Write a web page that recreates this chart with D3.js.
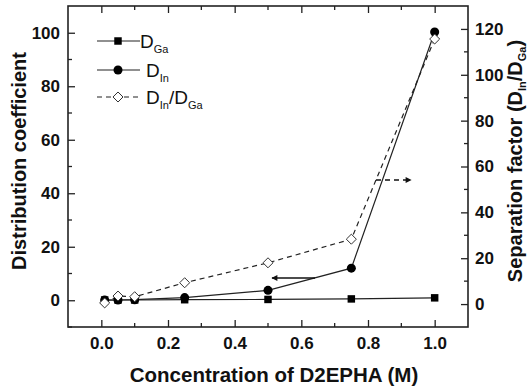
<!DOCTYPE html>
<html><head><meta charset="utf-8">
<script src="https://cdn.jsdelivr.net/npm/d3@7"></script>
<style>body{margin:0;background:#fff}svg{display:block}text{font-family:"Liberation Sans",Arial,sans-serif;font-weight:bold;fill:#111}</style>
</head><body>
<svg id="c" width="531" height="387"></svg>
<script>
const conc = [0.01, 0.05, 0.1, 0.25, 0.5, 0.75, 1.0];
const dGa = [0.1, 0.1, 0.1, 0.2, 0.3, 0.5, 0.9];
const dIn = [0.05, 0.1, 0.2, 1.0, 3.7, 12.0, 100.3];
const ratio = [0.5, 3.5, 3.2, 9.3, 18.0, 28.3, 115.6];
const xTicks = [0.0, 0.2, 0.4, 0.6, 0.8, 1.0];
const yLeftTicks = [0, 20, 40, 60, 80, 100];
const yRightTicks = [0, 20, 40, 60, 80, 100, 120];

const svg = d3.select("#c");
const L = 68, R = 468, T = 6, B = 327;
const x = d3.scaleLinear().domain([-0.1, 1.1]).range([L, R]);
const yL = d3.scaleLinear().domain([-10, 110]).range([B, T]);
const yR = d3.scaleLinear().domain([-10, 130]).range([B, T]);
const col = "#222";

const xMinor = [0.1, 0.3, 0.5, 0.7, 0.9];
const g = svg.append("g");

// Bottom axis
const bx = g.append("g").attr("transform", `translate(0,${B})`)
  .call(d3.axisBottom(x).tickValues(xTicks).tickFormat(d3.format(".1f")).tickSizeInner(-7).tickSizeOuter(0).tickPadding(10));
bx.append("g").selectAll("line").data(xMinor).join("line")
  .attr("x1", d => x(d)).attr("x2", d => x(d)).attr("y1", 0).attr("y2", -4);
// Top axis
const tx = g.append("g").attr("transform", `translate(0,${T})`)
  .call(d3.axisTop(x).tickValues(xTicks).tickFormat("").tickSizeInner(-7).tickSizeOuter(0));
tx.append("g").selectAll("line").data(xMinor).join("line")
  .attr("x1", d => x(d)).attr("x2", d => x(d)).attr("y1", 0).attr("y2", 4);
// Left axis
const ly = g.append("g").attr("transform", `translate(${L},0)`)
  .call(d3.axisLeft(yL).tickValues(yLeftTicks).tickSizeInner(-7).tickSizeOuter(0).tickPadding(8));
ly.append("g").selectAll("line").data([-10,10,30,50,70,90]).join("line")
  .attr("y1", d => yL(d)).attr("y2", d => yL(d)).attr("x1", 0).attr("x2", 4);
// Right axis
const ry = g.append("g").attr("transform", `translate(${R},0)`)
  .call(d3.axisRight(yR).tickValues(yRightTicks).tickSizeInner(-7).tickSizeOuter(0).tickPadding(7));
ry.append("g").selectAll("line").data([10,30,50,70,90,110]).join("line")
  .attr("y1", d => yR(d)).attr("y2", d => yR(d)).attr("x1", 0).attr("x2", -4);

g.selectAll(".domain").remove();
g.selectAll("line").attr("stroke", col).attr("stroke-width", 1.3);
g.selectAll(".tick text").style("font-size", "17px").attr("fill", "#111");

svg.append("rect").attr("x", L).attr("y", T).attr("width", R - L).attr("height", B - T)
  .attr("fill", "none").attr("stroke", col).attr("stroke-width", 1.6);

// Series
const lineL = d3.line().x((d, i) => x(conc[i])).y(d => yL(d));
const lineR = d3.line().x((d, i) => x(conc[i])).y(d => yR(d));
svg.append("path").attr("d", lineL(dGa)).attr("fill", "none").attr("stroke", col).attr("stroke-width", 1.2);
svg.append("path").attr("d", lineL(dIn)).attr("fill", "none").attr("stroke", col).attr("stroke-width", 1.2);
svg.append("path").attr("d", lineR(ratio)).attr("fill", "none").attr("stroke", col).attr("stroke-width", 1.2).attr("stroke-dasharray", "5,4");

const sq = d3.symbol().type(d3.symbolSquare).size(56);
const ci = d3.symbol().type(d3.symbolCircle).size(64);
const di = d3.symbol().type(d3.symbolDiamond2).size(64);
svg.append("g").selectAll("path").data(dGa).join("path")
  .attr("transform", (d, i) => `translate(${x(conc[i])},${yL(d)})`).attr("d", sq).attr("fill", "#000");
svg.append("g").selectAll("path").data(dIn).join("path")
  .attr("transform", (d, i) => `translate(${x(conc[i])},${yL(d)})`).attr("d", ci).attr("fill", "#000");
svg.append("g").selectAll("path").data(ratio).join("path")
  .attr("transform", (d, i) => `translate(${x(conc[i])},${yR(d)})`).attr("d", di)
  .attr("fill", "#fff").attr("stroke", "#333").attr("stroke-width", 1);

// Arrows
const defs = svg.append("defs");
defs.append("marker").attr("id", "ah").attr("viewBox", "0 0 10 10").attr("refX", 9).attr("refY", 5)
  .attr("markerWidth", 9).attr("markerHeight", 6).attr("markerUnits", "userSpaceOnUse").attr("orient", "auto")
  .append("path").attr("d", "M0,0L10,5L0,10Z").attr("fill", "#111");
svg.append("line").attr("x1", 315).attr("y1", 278).attr("x2", 272).attr("y2", 278)
  .attr("stroke", "#111").attr("stroke-width", 1.3).attr("marker-end", "url(#ah)");
svg.append("line").attr("x1", 376).attr("y1", 180).attr("x2", 411).attr("y2", 180)
  .attr("stroke", "#111").attr("stroke-width", 1.3).attr("stroke-dasharray", "5,4").attr("marker-end", "url(#ah)");

// Legend
const leg = [
  {y: 41, sym: sq, fill: "#000", dash: null},
  {y: 70, sym: ci, fill: "#000", dash: null},
  {y: 97, sym: di, fill: "#fff", dash: "5,4"}
];
leg.forEach(l => {
  svg.append("line").attr("x1", 97).attr("x2", 140).attr("y1", l.y).attr("y2", l.y)
    .attr("stroke", col).attr("stroke-width", 1.2).attr("stroke-dasharray", l.dash);
  svg.append("path").attr("transform", `translate(118,${l.y})`).attr("d", l.sym)
    .attr("fill", l.fill).attr("stroke", l.fill === "#fff" ? "#333" : null);
});
function legText(xx, yy, parts) {
  const t = svg.append("text").attr("x", xx).attr("y", yy).style("font-size", "19px").style("font-weight", "normal");
  parts.forEach(p => {
    const s = t.append("tspan").text(p[0]).attr("dy", p[1]);
    if (p[2]) s.style("font-size", "11px");
  });
}
legText(140, 48, [["D", 0], ["Ga", 5, true]]);
legText(146, 77, [["D", 0], ["In", 5, true]]);
legText(146, 104, [["D", 0], ["In", 5, true], ["/D", -5], ["Ga", 5, true]]);

// Axis titles
svg.append("text").attr("x", 274).attr("y", 382).attr("text-anchor", "middle")
  .style("font-size", "20.5px").text("Concentration of D2EPHA (M)");
svg.append("text").attr("transform", "translate(26,161) rotate(-90)").attr("text-anchor", "middle")
  .style("font-size", "20px").text("Distribution coefficient");
const rt = svg.append("text").attr("transform", "translate(522,161) rotate(-90)").attr("text-anchor", "middle")
  .style("font-size", "20px");
rt.append("tspan").text("Separation factor (D");
rt.append("tspan").text("In").style("font-size", "11px").attr("dy", 4);
rt.append("tspan").text("/D").attr("dy", -4);
rt.append("tspan").text("Ga").style("font-size", "11px").attr("dy", 4);
rt.append("tspan").text(")").attr("dy", -4);
</script>
</body></html>
